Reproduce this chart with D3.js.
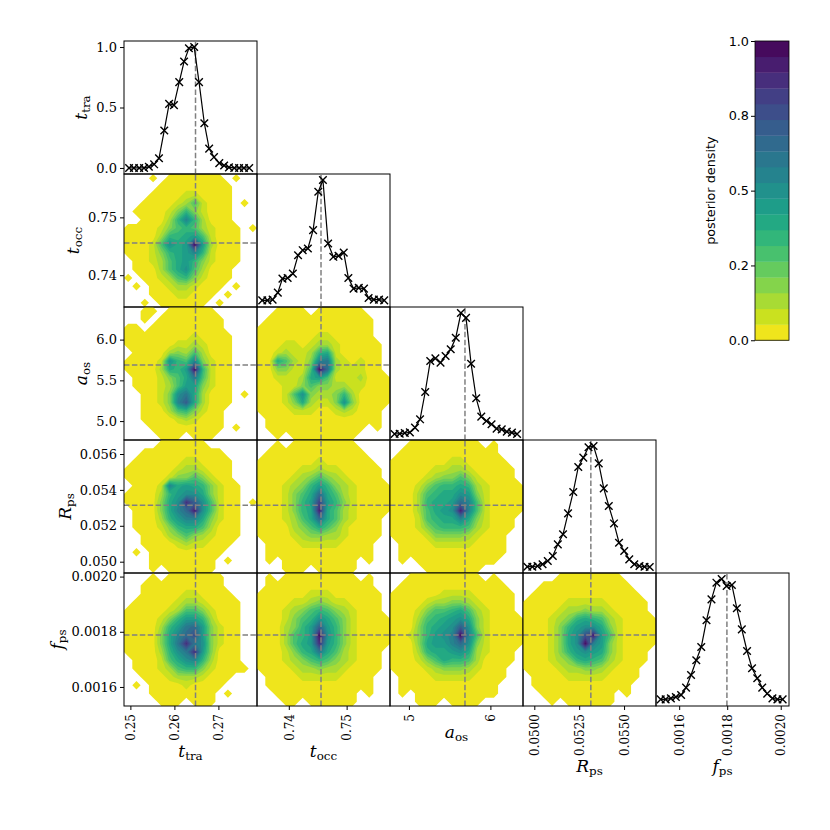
<!DOCTYPE html>
<html>
<head>
<meta charset="utf-8">
<script src="https://cdn.jsdelivr.net/npm/d3@7/dist/d3.min.js"></script>
<style>
body { margin: 0; background: #fff; }
</style>
</head>
<body>
<script>
// parameters: symbol + subscript
let symbols = ["t", "t", "a", "R", "f"];
let subscripts = ["tra", "occ", "os", "ps", "ps"];
let ranges = [[0.24855, 0.27877], [0.7345, 0.7575], [4.768, 6.400], [0.04937, 0.05678], [0.001531, 0.002013]];
let truths = [0.2648, 0.74557, 5.688, 0.05315, 0.001788];

let xTickValues = [[0.25, 0.26, 0.27], [0.74, 0.75], [5, 6], [0.05, 0.0525, 0.055], [0.001615, 0.001789, 0.001983]];
let xTickLabels = [["0.25", "0.26", "0.27"], ["0.74", "0.75"], ["5", "6"], ["0.0500", "0.0525", "0.0550"], ["0.0016", "0.0018", "0.0020"]];
let yTickValues = [[0, 0.5, 1], [0.74, 0.75], [5, 5.5, 6], [0.05, 0.052, 0.054, 0.056], [0.0016, 0.0018, 0.002]];
let yTickLabels = [["0.0", "0.5", "1.0"], ["0.74", "0.75"], ["5.0", "5.5", "6.0"], ["0.050", "0.052", "0.054", "0.056"], ["0.0016", "0.0018", "0.0020"]];

let cbTickValues = [0, 0.25, 0.5, 0.75, 1];
let cbTickLabels = ["0.0", "0.2", "0.5", "0.8", "1.0"];
let levelCount = 19;

// 1D marginals (bin centres, normalised counts)
let tTraBins = [0.2497, 0.2508, 0.2520, 0.2531, 0.2542, 0.2554, 0.2565, 0.2577, 0.2588, 0.2599, 0.2611, 0.2622, 0.2633, 0.2645, 0.2656, 0.2668, 0.2679, 0.2690, 0.2702, 0.2713, 0.2724, 0.2736, 0.2747, 0.2758, 0.2770];
let tTraHist = [0, 0, 0, 0, 0.01, 0.03, 0.08, 0.31, 0.53, 0.52, 0.71, 0.88, 0.99, 1.0, 0.71, 0.37, 0.16, 0.09, 0.04, 0.02, 0.005, 0, 0, 0, 0];
let tOccBins = [0.7354, 0.7363, 0.7372, 0.7381, 0.7389, 0.7398, 0.7407, 0.7416, 0.7424, 0.7433, 0.7442, 0.7451, 0.7459, 0.7468, 0.7477, 0.7486, 0.7495, 0.7503, 0.7512, 0.7521, 0.7530, 0.7538, 0.7547, 0.7556, 0.7565];
let tOccHist = [0.005, 0.005, 0.011, 0.069, 0.185, 0.19, 0.226, 0.378, 0.42, 0.434, 0.586, 0.903, 1.0, 0.475, 0.365, 0.373, 0.40, 0.19, 0.102, 0.108, 0.102, 0.025, 0.011, 0.011, 0.005];
let aOsBins = [4.824, 4.887, 4.949, 5.012, 5.075, 5.137, 5.200, 5.262, 5.325, 5.388, 5.450, 5.513, 5.575, 5.638, 5.701, 5.763, 5.826, 5.888, 5.951, 6.014, 6.076, 6.139, 6.201, 6.264, 6.327];
let aOsHist = [0, 0.002, 0.008, 0.013, 0.052, 0.121, 0.347, 0.603, 0.625, 0.59, 0.645, 0.70, 0.796, 1.0, 0.96, 0.581, 0.295, 0.143, 0.107, 0.08, 0.044, 0.038, 0.019, 0.011, 0];
let rPsBins = [0.04961, 0.04989, 0.05018, 0.05046, 0.05075, 0.05103, 0.05131, 0.05160, 0.05188, 0.05217, 0.05245, 0.05273, 0.05302, 0.05330, 0.05359, 0.05387, 0.05415, 0.05444, 0.05472, 0.05501, 0.05529, 0.05557, 0.05586, 0.05614, 0.05643];
let rPsHist = [0.002, 0.002, 0.008, 0.022, 0.049, 0.091, 0.187, 0.27, 0.443, 0.62, 0.827, 0.904, 0.99, 1.0, 0.857, 0.65, 0.504, 0.36, 0.2, 0.132, 0.063, 0.022, 0.008, 0.002, 0];
let fPsBins = [0.001548, 0.001566, 0.001585, 0.001603, 0.001622, 0.001640, 0.001658, 0.001677, 0.001695, 0.001714, 0.001732, 0.001750, 0.001769, 0.001787, 0.001806, 0.001824, 0.001842, 0.001861, 0.001879, 0.001898, 0.001916, 0.001934, 0.001953, 0.001971, 0.001990];
let fPsHist = [0.005, 0.005, 0.013, 0.024, 0.041, 0.102, 0.206, 0.328, 0.438, 0.659, 0.832, 0.97, 1.0, 0.942, 0.951, 0.758, 0.584, 0.405, 0.262, 0.179, 0.102, 0.052, 0.013, 0.005, 0.005];

// 2D densities: density level per cell (0 = empty, 1..j = level 1..19), top row first
let tOccVsTTra = [
  "0001011111110100", "0000111111111000", "0001111221111000", "0011112362111010",
  "0111124742111000", "0011137b73111000", "1111246763211101", "1111377896211100",
  "11126a89j9311100", "11124789b7211100", "0112368974211100", "0111368a63111000",
  "1011236742111000", "0101123321110100", "0001112211101000", "0010111111010000"];
let aOsVsTTra = [
  "0011011111100000", "0010111111110000", "1101111111110000", "1111111121111000",
  "1111112232111000", "0111134363111000", "11112a76b4211000", "11113879j7211000",
  "01112468c6211000", "0111236994211000", "001124ac83111010", "001124be83111000",
  "0011136742110000", "0011112321110000", "0001111111110100", "0000111011100000"];
let aOsVsTOcc = [
  "0011110111111000", "0111111111111100", "1111111111111100", "1111111221111100",
  "1112212332111110", "1123223782111110", "1186324bc3212110", "1144226jd3222110",
  "1122238962223111", "1112246443322111", "11126a4334731111", "1112483224a41111",
  "1111222112321110", "0111111111111110", "0111111111111010", "0010111111110000"];
let rPsVsTTra = [
  "0000111111000000", "0011111111110000", "0111111221111000", "1111112332111000",
  "1111124464211000", "01112b8987421100", "1111379aa8421100", "111148ahea621101",
  "011148bdia621100", "0111379bb8421100", "0111247886311100", "0011134643211100",
  "0011112322111000", "0101111111110000", "0001111111101000", "0001011111100000"];
let rPsVsTOcc = [
  "0010111111110000", "0111111111111000", "1111111211111100", "1111122322111110",
  "1111234643211110", "1112347974321111", "1112468d86321111", "1112479g97421111",
  "1112478i86321111", "1112368d86321110", "1111346864211110", "1111234433211110",
  "0111122222111100", "0111111111111100", "0101111111110100", "0001110111110000"];
let rPsVsAOs = [
  "0011111111101000", "0111111111111000", "1111111221111100", "1111122332111110",
  "1111234464211110", "1112467787321111", "11136788a9421111", "11137889db621111",
  "1113689aib621111", "11126788b8421110", "1112467776321110", "1111244443211100",
  "0111122222111100", "0111111111111100", "0101111111111000", "0000111111100000"];
let fPsVsTTra = [
  "0001011111110000", "0011111111110000", "0011111221111000", "0111112332111100",
  "1111123664211100", "1111247997311100", "1111379cd9421100", "111148bdf9421100",
  "111148chca421100", "111137ach9411100", "0111268ab7311100", "0111236774211110",
  "0011123332111000", "0101111211110000", "0001111111101000", "0000111011100000"];
let fPsVsTOcc = [
  "0101111111110100", "0111111111111100", "1111112221111110", "1111223432211110",
  "1112346764321110", "1112467a86421111", "1113479e97421111", "1113679ja7421111",
  "1113689h97421111", "1112478c86321110", "1112346764321110", "1111233433211110",
  "0111122222111100", "0111111111111100", "0011111111110100", "0001101111110000"];
let fPsVsAOs = [
  "0011111111101000", "0111111111111100", "1111112222111110", "1111233443211110",
  "1112466786321110", "11136789a8421111", "1114789aea421111", "112479abjb621111",
  "1114899bda421111", "11137889a8321110", "1112468776311110", "1111234443211100",
  "0111122222111100", "0111111111111000", "0101111111111000", "0001110111100000"];
let fPsVsRPs = [
  "0000111111110000", "0011111111111000", "0111111111111100", "1111122222111110",
  "1111233433211110", "1112347876321111", "1112479aa8421111", "111248afi9621111",
  "111248ajb9421111", "1112479a98421110", "1112347876321110", "1111233443211100",
  "0111122222111100", "0111111111111000", "0011111111101000", "0001011111100000"];

let W = 830;
let svg = d3.select("body").append("svg").attr("width", W).attr("height", W);
let gridLeft = 124, gridTop = 41, cell = 133;
let serif = "DejaVu Serif";

// reversed viridis, one colour per band (band midpoints)
let bandColor = (k) => d3.interpolateViridis(1 - (k + 0.5) / levelCount);

let xScales = ranges.map((r, i) => d3.scaleLinear().domain(r).range([gridLeft + i * cell, gridLeft + (i + 1) * cell]));
let yScales = ranges.map((r, i) => d3.scaleLinear().domain(r).range([gridTop + (i + 1) * cell, gridTop + i * cell]));
let histScale = (i) => d3.scaleLinear().domain([-0.05, 1.05]).range([gridTop + (i + 1) * cell, gridTop + i * cell]);

let DashLine = (g, x1, y1, x2, y2) =>
{
  g.append("line")
    .attr("x1", x1).attr("y1", y1).attr("x2", x2).attr("y2", y2)
    .attr("stroke", "#808080")
    .attr("stroke-width", 1.5)
    .attr("stroke-dasharray", "5.5,2.4");
}

let Frame = (r, c) =>
{
  svg.append("rect")
    .attr("x", gridLeft + c * cell).attr("y", gridTop + r * cell)
    .attr("width", cell).attr("height", cell)
    .attr("fill", "none").attr("stroke", "#000").attr("stroke-width", 1);
}

let DrawDensity = (r, c, rows) =>
{
  let n = rows[0].length, m = rows.length;
  let values = [];
  rows.forEach(s => s.split("").forEach(ch => values.push(parseInt(ch, 20))));
  let gx = d3.scaleLinear().domain([0, n]).range(ranges[c]);
  let gy = d3.scaleLinear().domain([0, m]).range([ranges[r][1], ranges[r][0]]);
  let proj = d3.geoTransform({
    point: function(px, py) { this.stream.point(xScales[c](gx(px)), yScales[r](gy(py))); }
  });
  let path = d3.geoPath(proj);
  let contours = d3.contours()
    .size([n, m])
    .thresholds(d3.range(levelCount).map(k => k + 0.5))(values);
  let g = svg.append("g");
  g.selectAll("path").data(contours).enter().append("path")
    .attr("d", path)
    .attr("fill", (d, k) => bandColor(k));
  let xs = xScales[c], ys = yScales[r];
  DashLine(g, xs(truths[c]), ys.range()[0], xs(truths[c]), ys.range()[1]);
  DashLine(g, xs.range()[0], ys(truths[r]), xs.range()[1], ys(truths[r]));
  Frame(r, c);
}

let DrawDiag = (i, bins, hist) =>
{
  let g = svg.append("g");
  let x = xScales[i], y = histScale(i);
  DashLine(g, x(truths[i]), y.range()[0], x(truths[i]), y.range()[1]);
  let line = d3.line().x((d, k) => x(bins[k])).y(d => y(d));
  g.append("path").datum(hist)
    .attr("d", line)
    .attr("fill", "none").attr("stroke", "#000").attr("stroke-width", 1.2);
  g.selectAll(".mark").data(hist).enter().append("path")
    .attr("class", "mark")
    .attr("transform", (d, k) => "translate(" + x(bins[k]) + "," + y(d) + ")")
    .attr("d", "M-3.8,-3.8L3.8,3.8M-3.8,3.8L3.8,-3.8")
    .attr("fill", "none").attr("stroke", "#000").attr("stroke-width", 1.4);
  Frame(i, i);
}

let AxisLabel = (t, i) =>
{
  t.append("tspan").attr("font-style", "italic").text(symbols[i]);
  t.append("tspan").attr("font-size", "70%").attr("dy", 3).text(subscripts[i]);
}

let DrawAxes = () =>
{
  let bottom = gridTop + 5 * cell;
  for (let c = 0; c < 5; c++)
  {
    let g = svg.append("g").attr("transform", "translate(0," + bottom + ")")
      .call(d3.axisBottom(xScales[c]).tickValues(xTickValues[c])
        .tickFormat((d, k) => xTickLabels[c][k]).tickSize(4).tickPadding(4));
    g.select(".domain").remove();
    g.selectAll("line").attr("stroke", "#000");
    g.selectAll("text")
      .attr("font-family", serif).attr("font-size", 12).attr("fill", "#000")
      .attr("x", -8).attr("y", 0).attr("dy", "0.35em")
      .attr("transform", "rotate(-90)")
      .style("text-anchor", "end");
    let box = g.node().getBBox();
    let lab = svg.append("text")
      .attr("x", gridLeft + (c + 0.5) * cell)
      .attr("y", bottom + box.y + box.height + 16)
      .attr("text-anchor", "middle")
      .attr("font-family", serif).attr("font-size", 17);
    AxisLabel(lab, c);
  }
  for (let r = 0; r < 5; r++)
  {
    let sc = r == 0 ? histScale(0) : yScales[r];
    let g = svg.append("g").attr("transform", "translate(" + gridLeft + ",0)")
      .call(d3.axisLeft(sc).tickValues(yTickValues[r])
        .tickFormat((d, k) => yTickLabels[r][k]).tickSize(4).tickPadding(3));
    g.select(".domain").remove();
    g.selectAll("line").attr("stroke", "#000");
    g.selectAll("text").attr("font-family", serif).attr("font-size", 13).attr("fill", "#000");
    let box = g.node().getBBox();
    let lx = gridLeft + box.x - 9;
    let ly = gridTop + (r + 0.5) * cell;
    let lab = svg.append("text")
      .attr("x", lx).attr("y", ly)
      .attr("transform", "rotate(-90," + lx + "," + ly + ")")
      .attr("text-anchor", "middle")
      .attr("font-family", serif).attr("font-size", 17);
    AxisLabel(lab, r);
  }
}

let DrawColorbar = () =>
{
  let x0 = 755, w = 34;
  let cb = d3.scaleLinear().domain([0, 1]).range([gridTop + 2.25 * cell, gridTop]);
  let g = svg.append("g");
  g.selectAll("rect").data(d3.range(levelCount)).enter().append("rect")
    .attr("x", x0).attr("width", w)
    .attr("y", k => cb((k + 1) / levelCount))
    .attr("height", k => cb(k / levelCount) - cb((k + 1) / levelCount) + 0.3)
    .attr("fill", k => bandColor(k));
  svg.append("rect").attr("x", x0).attr("y", cb(1)).attr("width", w).attr("height", cb(0) - cb(1))
    .attr("fill", "none").attr("stroke", "#000").attr("stroke-width", 0.8);
  let ax = svg.append("g").attr("transform", "translate(" + x0 + ",0)")
    .call(d3.axisLeft(cb).tickValues(cbTickValues).tickFormat((d, k) => cbTickLabels[k]).tickSize(4).tickPadding(2));
  ax.select(".domain").remove();
  ax.selectAll("line").attr("stroke", "#000");
  ax.selectAll("text").attr("font-family", "DejaVu Sans").attr("font-size", 12.8).attr("fill", "#000");
  let box = ax.node().getBBox();
  let lx = x0 + box.x - 13.5, ly = (cb(0) + cb(1)) / 2;
  svg.append("text")
    .attr("x", lx).attr("y", ly)
    .attr("transform", "rotate(-90," + lx + "," + ly + ")")
    .attr("text-anchor", "middle")
    .attr("font-family", "DejaVu Sans").attr("font-size", 12.8)
    .text("posterior density");
}

DrawDensity(1, 0, tOccVsTTra);
DrawDensity(2, 0, aOsVsTTra);
DrawDensity(2, 1, aOsVsTOcc);
DrawDensity(3, 0, rPsVsTTra);
DrawDensity(3, 1, rPsVsTOcc);
DrawDensity(3, 2, rPsVsAOs);
DrawDensity(4, 0, fPsVsTTra);
DrawDensity(4, 1, fPsVsTOcc);
DrawDensity(4, 2, fPsVsAOs);
DrawDensity(4, 3, fPsVsRPs);

DrawDiag(0, tTraBins, tTraHist);
DrawDiag(1, tOccBins, tOccHist);
DrawDiag(2, aOsBins, aOsHist);
DrawDiag(3, rPsBins, rPsHist);
DrawDiag(4, fPsBins, fPsHist);

DrawAxes();
DrawColorbar();
</script>
</body>
</html>
